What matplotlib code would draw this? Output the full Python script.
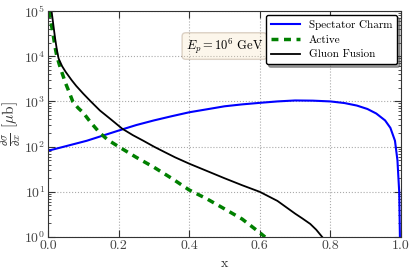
import numpy as np
import matplotlib
matplotlib.use('Agg')
import matplotlib.pyplot as plt

plt.rcParams['font.family'] = 'serif'
plt.rcParams['font.serif'] = ['cmr10']
plt.rcParams['mathtext.fontset'] = 'cm'
plt.rcParams['axes.formatter.use_mathtext'] = True
plt.rcParams['axes.unicode_minus'] = False

# values (x, dsigma/dx in mub)
x_charm = [0.0, 0.05, 0.11, 0.15, 0.21, 0.25, 0.3, 0.35, 0.4, 0.46, 0.5, 0.55, 0.6, 0.65, 0.7, 0.75, 0.8,
           0.84, 0.875, 0.905, 0.93, 0.955, 0.97, 0.983, 0.99, 0.995, 0.997]
y_charm = [81, 102, 135, 170, 240, 300, 380, 470, 575, 690, 780, 860, 930, 1000, 1050, 1040, 1000,
           920, 810, 680, 540, 380, 260, 135, 50, 10, 1]

x_active = [0.003, 0.007, 0.014, 0.02, 0.025, 0.035, 0.05, 0.06, 0.07, 0.085, 0.1, 0.12, 0.147, 0.17, 0.2,
            0.25, 0.3, 0.35, 0.4, 0.45, 0.5, 0.55, 0.6, 0.615]
y_active = [1e5, 6.5e4, 3.2e4, 1.6e4, 1e4, 5500, 2500, 1600, 1000, 720, 560, 350, 200, 140, 100,
            58, 35, 20, 11, 7, 4.2, 2.5, 1.25, 1.0]

x_gluon = [0.01, 0.015, 0.02, 0.025, 0.03, 0.04, 0.05, 0.067, 0.08, 0.1, 0.12, 0.147, 0.18, 0.21, 0.24,
           0.27, 0.3, 0.33, 0.36, 0.4, 0.45, 0.5, 0.55, 0.6, 0.65, 0.7, 0.72, 0.743, 0.76, 0.777]
y_gluon = [1e5, 5e4, 2.5e4, 1.4e4, 8900, 6000, 4500, 2950, 2200, 1480, 1020, 630, 390, 250, 180,
           135, 100, 76, 58, 42, 29, 20, 14, 10, 6.3, 3.3, 2.6, 1.95, 1.45, 1.0]

fig = plt.figure(figsize=(4.15, 2.75), dpi=100)
ax = fig.add_axes([0.1157, 0.138, 0.8505, 0.822])

ax.plot(x_charm, y_charm, color='b', lw=1.5, label='Spectator Charm')
ax.plot(x_active, y_active, color='g', lw=2.5, ls=(0, (2, 1.6)), label='Active')
ax.plot(x_gluon, y_gluon, color='k', lw=1.3, label='Gluon Fusion')

ax.set_yscale('log')
ax.set_xlim(0, 1)
ax.set_ylim(1, 1e5)
ax.set_xticks([0.0, 0.2, 0.4, 0.6, 0.8, 1.0])
ax.set_xticklabels(['0.0', '0.2', '0.4', '0.6', '0.8', '1.0'])
ax.tick_params(which='both', direction='in', top=True, right=True, labelsize=10, colors='#333333',
               labelcolor='#444444', pad=2)
ax.tick_params(which='major', length=5)
ax.tick_params(which='minor', length=2.5)
ax.grid(True, which='major', ls=':', color='#aaaaaa', lw=0.8)

ax.set_xlabel('x', fontsize=10, color='#333333', labelpad=4)
ax.set_ylabel(r'$\frac{\partial\sigma}{\partial x}$ [$\mu$b]', fontsize=11, color='#333333', labelpad=1)

ax.text(0.5, 0.845, r'$E_p = 10^6$ GeV', transform=ax.transAxes, ha='center', va='center', fontsize=9,
        bbox=dict(boxstyle='round,pad=0.3', facecolor='wheat', alpha=0.25, edgecolor='#775533'))

leg = ax.legend(loc='upper right', fontsize=8, shadow=True, fancybox=True, handlelength=2.6,
                borderpad=0.45, labelspacing=0.45, borderaxespad=0.35)
leg.get_frame().set_edgecolor('k')
leg.get_frame().set_alpha(1)

for s in ax.spines.values():
    s.set_color('#333333')

plt.savefig('out.png', dpi=100)
